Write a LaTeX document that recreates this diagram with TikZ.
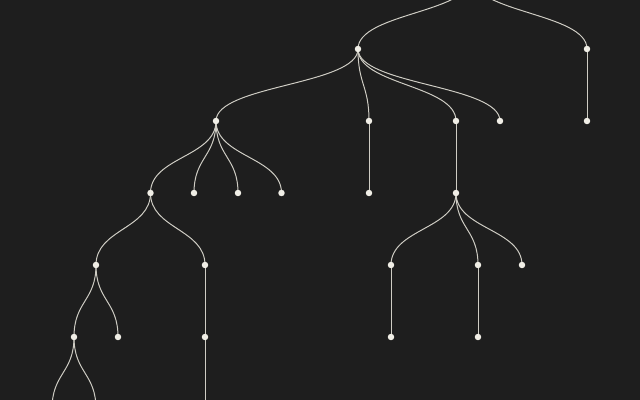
\documentclass[tikz,border=0pt]{standalone}
\usetikzlibrary{calc,backgrounds}
\definecolor{bgdark}{HTML}{1E1E1E}
\definecolor{linkgray}{HTML}{CFCDC4}
\definecolor{dotwhite}{HTML}{F0EEE6}
\tikzset{
	dot/.style={circle, fill=dotwhite, inner sep=0pt, minimum size=4.6pt},
	link/.style={draw=linkgray, line width=0.7pt}
}
\begin{document}
\begin{tikzpicture}[x=0.025cm, y=-0.025cm]
	\useasboundingbox (0,0) rectangle (640,400);
	
	% Nodes, level by level
	\node[dot] (root) at (472,-23) {};
	
	\node[dot] (a) at (358,49) {};
	\node[dot] (b) at (587,49) {};
	
	\node[dot] (a1) at (216,121) {};
	\node[dot] (a2) at (369,121) {};
	\node[dot] (a3) at (456,121) {};
	\node[dot] (a4) at (500,121) {};
	\node[dot] (b1) at (587,121) {};
	
	\node[dot] (a11) at (150.5,193) {};
	\node[dot] (a12) at (194,193) {};
	\node[dot] (a13) at (238,193) {};
	\node[dot] (a14) at (281.5,193) {};
	\node[dot] (a21) at (369,193) {};
	\node[dot] (a31) at (456,193) {};
	
	\node[dot] (a111) at (96,265) {};
	\node[dot] (a112) at (205,265) {};
	\node[dot] (a311) at (391,265) {};
	\node[dot] (a312) at (478,265) {};
	\node[dot] (a313) at (522,265) {};
	
	\node[dot] (a1111) at (74,337) {};
	\node[dot] (a1112) at (118,337) {};
	\node[dot] (a1121) at (205,337) {};
	\node[dot] (a3111) at (391,337) {};
	\node[dot] (a3121) at (478,337) {};
	
	\node[dot] (a11111) at (52,409) {};
	\node[dot] (a11112) at (96,409) {};
	\node[dot] (a11211) at (205,409) {};
	
	% Links behind the dots
	\begin{scope}[on background layer]
		\fill[bgdark] (0,0) rectangle (640,400);
		\foreach \p/\c in {root/a, root/b, a/a1, a/a2, a/a3, a/a4, b/b1,
				a1/a11, a1/a12, a1/a13, a1/a14, a2/a21, a3/a31,
				a11/a111, a11/a112, a31/a311, a31/a312, a31/a313,
				a111/a1111, a111/a1112, a112/a1121, a311/a3111, a312/a3121,
				a1111/a11111, a1111/a11112, a1121/a11211}
			\draw[link] (\p.center) .. controls ($(\p.center)!.5!(\p.center|-\c.center)$)
				and ($(\c.center)!.5!(\c.center|-\p.center)$) .. (\c.center);
	\end{scope}
\end{tikzpicture}
\end{document}
